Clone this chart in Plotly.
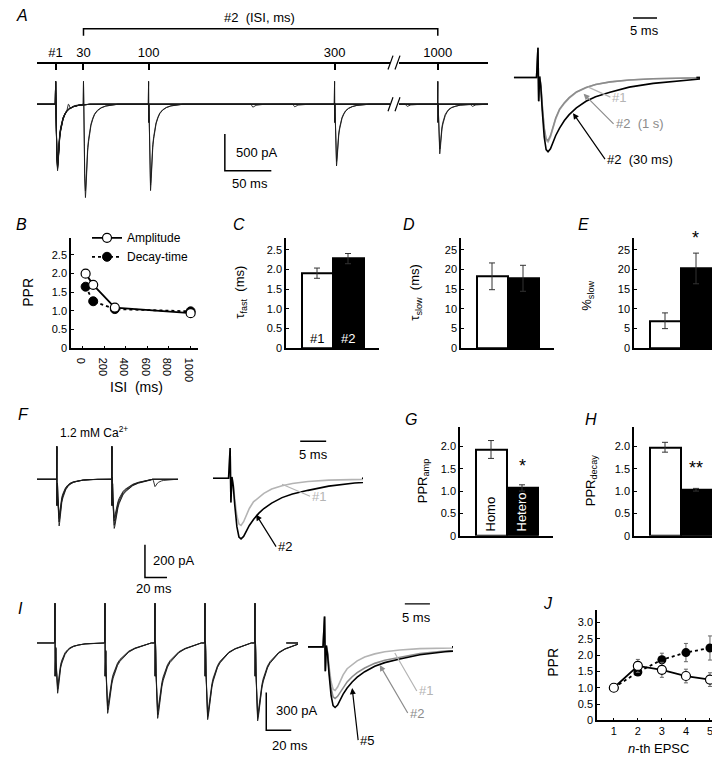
import plotly.graph_objects as go

W, H = 720, 760
def fx(p): return p / W
def fy(p): return 1 - p / H

FONT = "Liberation Sans, Arial, sans-serif"
GRAY1 = "#b4b4b4"
GRAY2 = "#8c8c8c"

# ---------------- data ----------------
# Panel B
B_ISI = [30, 100, 300, 1000]
B_AMP = [2.00, 1.70, 1.09, 0.94]
B_AMP_ERR = [0.10, 0.06, 0.04, 0.04]
B_DEC = [1.65, 1.26, 1.05, 0.99]
B_DEC_ERR = [0.06, 0.05, 0.03, 0.03]
# Panels C, D, E
CDE_GROUPS = ["#1", "#2"]
C_VAL = [1.91, 2.28]; C_ERR = [0.13, 0.13]
D_VAL = [18.3, 17.8]; D_ERR = [3.4, 3.3]
E_VAL = [7.0, 20.3]; E_ERR = [2.0, 3.9]
# Panels G, H
GH_GROUPS = ["Homo", "Hetero"]
G_VAL = [1.93, 1.07]; G_ERR = [0.20, 0.07]
H_VAL = [1.98, 1.03]; H_ERR = [0.11, 0.03]
# Panel J
J_N = [1, 2, 3, 4, 5]
J_AMP = [1.0, 1.67, 1.55, 1.36, 1.25]; J_AMP_ERR = [0, 0.20, 0.23, 0.21, 0.21]
J_DEC = [1.0, 1.48, 1.86, 2.08, 2.22]; J_DEC_ERR = [0, 0.10, 0.20, 0.28, 0.37]

# EPSC waveform samples (ms after stimulus)
EV_T    = [-0.3, 0.0, 0.15, 0.35, 0.6, 0.9, 1.3, 1.7, 2.1, 2.6, 3.1, 3.7, 4.5, 5.5, 6.5, 8, 10, 12, 15, 19, 24, 30, 37]
EV_ART  = [0, 1.0, -0.8, 0.1, 0.05, 0, 0, 0, 0, 0, 0, 0, 0, 0, 0, 0, 0, 0, 0, 0, 0, 0, 0]
EV_FAST = [0, 0, 0, -0.03, -0.15, -0.45, -0.8, -0.97, -1.0, -0.92, -0.78, -0.64, -0.5, -0.4, -0.32, -0.23, -0.16, -0.11, -0.07, -0.04, -0.02, -0.01, 0]
EV_SLOW = [0, 0, 0, -0.03, -0.15, -0.45, -0.8, -0.97, -1.0, -0.96, -0.88, -0.78, -0.68, -0.58, -0.5, -0.41, -0.32, -0.26, -0.2, -0.13, -0.08, -0.04, 0]

# Panel A traces (pA)
A_ISI = [30, 100, 300, 1000]
A_AMP1 = [[905, 840], [870, 800], [880, 830], [860, 790]]
A_AMP2 = [[1270, 1180], [1175, 1100], [840, 780], [675, 610]]
A_MINIS = [[(210, 40)], [(255, 35)], [(376, 30)], [(446, 30), (14, 60)]]   # spontaneous events (display ms, pA)
A_ART = 310
A_BREAK_AT, A_BREAK_SKIP = 365, 589
A_TICK_LABELS = ["#1", "30", "100", "300", "1000"]
A_TICK_TIMES = [0, 30, 100, 300, 1000]
# A inset (normalised)
AI_AMP = {"#1": 0.87, "#2 (1 s)": 0.85, "#2 (30 ms)": 1.0}
AI_ART = 0.4

# Panel F traces (pA)
F_ISI = 50
F_AMP1 = [285, 260, 240, 220]
F_AMP2 = [300, 280, 255, 235]
F_MINIS = [[(87, 45)], [], [], []]
F_ART = 200
FI_AMP = {"#1": 0.78, "#2": 1.0}
FI_ART = 0.5

# Panel I traces (pA), 5 pulses
I_ISI = 40
I_AMP = [[400, 560, 600, 610, 620], [370, 530, 570, 590, 600], [340, 500, 540, 560, 570]]
I_ART = 330
II_AMP = {"#1": 0.72, "#2": 0.85, "#5": 1.0}
II_ART = 0.5

# ---------------- helpers ----------------
def event(t0, amp, art, shape, t_stop=None):
    xs, ys = [], []
    for t, a_, s in zip(EV_T, EV_ART, shape):
        if t_stop is not None and t0 + t >= t_stop:
            break
        xs.append(t0 + t)
        ys.append(art * a_ + amp * s)
    return xs, ys

def sweep(events, t_start, t_end):
    """events: list of (t0, amp, artifact, shape)"""
    events = sorted(events, key=lambda e: e[0])
    xs, ys = [t_start], [0]
    for i, (t0, amp, art, shape) in enumerate(events):
        stop = events[i + 1][0] - 0.3 if i + 1 < len(events) else None
        ex, ey = event(t0, amp, art, shape, stop)
        xs += ex; ys += ey
    xs.append(t_end); ys.append(0)
    return xs, ys

def disp_a(t):
    return t if t < A_BREAK_AT else t - A_BREAK_SKIP

fig = go.Figure()
layout = {}

def axes(n, xpx, ypx, xr, yr, visible=True, xkw=None, ykw=None):
    sfx = "" if n == 1 else str(n)
    base = dict(showgrid=False, zeroline=False, showline=True, linecolor="black", linewidth=1.5,
                ticks="inside", ticklen=3, tickcolor="black", tickwidth=1.2,
                tickfont=dict(family=FONT, size=11, color="black"), fixedrange=True)
    xa = dict(base, domain=[fx(xpx[0]), fx(xpx[1])], range=xr, anchor="y" + sfx)
    ya = dict(base, domain=[fy(ypx[1]), fy(ypx[0])], range=yr, anchor="x" + sfx)
    if not visible:
        for a in (xa, ya):
            a.update(showline=False, showticklabels=False, ticks="")
    if xkw: xa.update(xkw)
    if ykw: ya.update(ykw)
    layout["xaxis" + sfx] = xa
    layout["yaxis" + sfx] = ya
    return "x" + sfx, "y" + sfx

def line(xa, ya, x, y, color="black", width=1, dash=None, legend=False, name=None, **kw):
    fig.add_trace(go.Scatter(x=x, y=y, xaxis=xa, yaxis=ya, mode="lines",
                             line=dict(color=color, width=width, dash=dash),
                             showlegend=legend, name=name, hoverinfo="skip", **kw))

annots = []
def text(x, y, s, size=12, color="black", xref="paper", yref="paper", angle=0, xanchor="center", yanchor="middle"):
    if xref == "paper": x = fx(x)
    if yref == "paper": y = fy(y)
    annots.append(dict(x=x, y=y, xref=xref, yref=yref, text=s, showarrow=False, textangle=angle,
                       font=dict(family=FONT, size=size, color=color), xanchor=xanchor, yanchor=yanchor))

def pointer(xa, ya, x, y, ax, ay, s, color, head):
    annots.append(dict(x=x, y=y, xref=xa, yref=ya, ax=ax, ay=ay, text=s, showarrow=True,
                       arrowhead=head, arrowsize=1, arrowcolor=color, arrowwidth=1.2, xanchor="left",
                       font=dict(family=FONT, size=13, color=color)))

shapes = []

# ---------------- Panel A main ----------------
xa, ya = axes(1, (29, 480), (66, 200), [-20, 465], [-1390, 418], visible=False)
for k, isi in enumerate(A_ISI):
    for j in range(2):
        ev = [(0, A_AMP1[k][j], A_ART, EV_FAST), (disp_a(isi), A_AMP2[k][j], A_ART, EV_FAST)]
        if j == 0:
            ev += [(t, a, 0, EV_FAST) for t, a in A_MINIS[k]]
        x, y = sweep(ev, -20, 465)
        line(xa, ya, x, y, color="#1a1a1a", width=0.9)
# timeline axis on top
layout["xaxis2"] = dict(overlaying="x", anchor="free", position=fy(55), side="top", range=[-20, 465],
                        domain=layout["xaxis"]["domain"],
                        tickvals=[disp_a(t) for t in A_TICK_TIMES], ticktext=A_TICK_LABELS,
                        ticks="inside", ticklen=7, tickwidth=1.5, tickcolor="black",
                        showline=True, linecolor="black", linewidth=1.5, showgrid=False, zeroline=False,
                        tickfont=dict(family=FONT, size=13, color="black"), fixedrange=True)
fig.add_trace(go.Scatter(x=[0], y=[0], xaxis="x2", yaxis="y", mode="markers",
                         marker=dict(opacity=0), showlegend=False, hoverinfo="skip"))
# bracket
shapes.append(dict(type="path", xref="x", yref="paper",
                   path=f"M {disp_a(30)},{fy(28)} L {disp_a(30)},{fy(21)} L {disp_a(1000)},{fy(21)} L {disp_a(1000)},{fy(28)}",
                   line=dict(color="black", width=1.5)))
text(252, 10, "#2  (ISI, ms)", size=13)
# break marks
for yb in (55, 97):
    shapes.append(dict(type="rect", xref="paper", yref="paper", x0=fx(382), x1=fx(391), y0=fy(yb + 8), y1=fy(yb - 8),
                       fillcolor="white", line=dict(width=0)))
    for dx in (0, 7):
        shapes.append(dict(type="line", xref="paper", yref="paper", x0=fx(380 + dx), y0=fy(yb + 7),
                           x1=fx(385 + dx), y1=fy(yb - 7), line=dict(color="black", width=1.2)))
# scale bar
line(xa, ya, [182, 182, 232], [-405, -905, -905], width=1.5)
text(226, 146, "500 pA", size=13, xanchor="left")
text(222, 177, "50 ms", size=13, xanchor="left")

# ---------------- Panel A inset ----------------
xa, ya = axes(3, (505, 692), (5, 165), [-5.2, 33.75], [-1.267, 0.867], visible=False)
for name, col in (("#1", GRAY1), ("#2 (1 s)", GRAY2), ("#2 (30 ms)", "black")):
    shape = EV_SLOW if name == "#2 (30 ms)" else EV_FAST
    x, y = sweep([(0, AI_AMP[name], AI_ART, shape)], -5, 33)
    line(xa, ya, x, y, color=col, width=1.6)
line(xa, ya, [19.8, 24.8], [0.8, 0.8], width=1.5)
text(636, 23, "5 ms", size=13)
pointer(xa, ya, 10.5, -0.13, 22, 10, "#1", GRAY1, 0)
pointer(xa, ya, 9.5, -0.22, 30, 30, "#2  (1 s)", GRAY2, 2)
pointer(xa, ya, 7.3, -0.48, 32, 46, "#2  (30 ms)", "black", 2)

# ---------------- Panel B ----------------
xa, ya = axes(4, (63, 190), (232, 343), [-105, 1068], [0, 2.95],
              xkw=dict(tickvals=[0, 200, 400, 600, 800, 1000]),
              ykw=dict(tickvals=[0, 0.5, 1.0, 1.5, 2.0, 2.5], ticktext=["0", "0.5", "1.0", "1.5", "2.0", "2.5"]))
fig.add_trace(go.Scatter(x=B_ISI, y=B_DEC, xaxis=xa, yaxis=ya, mode="lines+markers", name="Decay-time",
                         line=dict(color="black", width=1.8, dash="dot"),
                         marker=dict(symbol="circle", size=9, color="black", line=dict(color="black", width=1)),
                         error_y=dict(type="data", array=B_DEC_ERR, color="black", thickness=1, width=2),
                         showlegend=True, legendrank=2, hoverinfo="skip"))
fig.add_trace(go.Scatter(x=B_ISI, y=B_AMP, xaxis=xa, yaxis=ya, mode="lines+markers", name="Amplitude",
                         line=dict(color="black", width=1.8),
                         marker=dict(symbol="circle", size=9, color="white", line=dict(color="black", width=1.2)),
                         error_y=dict(type="data", array=B_AMP_ERR, color="black", thickness=1, width=2),
                         showlegend=True, legendrank=1, hoverinfo="skip"))
text(20, 287, "PPR", size=14, angle=-90)
text(128, 382, "ISI  (ms)", size=14)

# ---------------- Bars ----------------
def bars(n, xpx, ypx, yr, vals, errs, tickvals, ticktext):
    xa, ya = axes(n, xpx, ypx, [0, 3], yr,
                  xkw=dict(showticklabels=False, ticks=""),
                  ykw=dict(tickvals=tickvals, ticktext=ticktext))
    fig.add_trace(go.Bar(x=[1, 2], y=vals, xaxis=xa, yaxis=ya, width=1,
                         marker=dict(color=["white", "black"], line=dict(color="black", width=2)),
                         error_y=dict(type="data", array=errs, color="#333333", thickness=1, width=3),
                         showlegend=False, hoverinfo="skip"))
    return xa, ya

t28 = [0, 0.5, 1.0, 1.5, 2.0, 2.5]
tt28 = ["0", "0.5", "1.0", "1.5", "2.0", "2.5"]
xa, ya = bars(5, (278, 371), (232, 343), [0, 2.8], C_VAL, C_ERR, t28, tt28)
text(309, 333, CDE_GROUPS[0], size=13)
text(340, 333, CDE_GROUPS[1], size=13, color="white")
text(233, 287, "τ<sub>fast</sub>  (ms)", size=13, angle=-90)
t25 = [0, 5, 10, 15, 20, 25]
xa, ya = bars(6, (453, 546), (232, 343), [0, 28], D_VAL, D_ERR, t25, [str(v) for v in t25])
text(408, 287, "τ<sub>slow</sub>  (ms)", size=13, angle=-90)
xa, ya = bars(7, (626, 719), (232, 343), [0, 28], E_VAL, E_ERR, t25, [str(v) for v in t25])
text(580, 290, "%<sub>slow</sub>", size=13, angle=-90)
text(687, 232, "*", size=18)

tg = [0, 0.5, 1.0, 1.5, 2.0]
ttg = ["0", "0.5", "1.0", "1.5", "2.0"]
xa, ya = bars(10, (452, 545), (422, 532), [0, 2.44], G_VAL, G_ERR, tg, ttg)
annots.append(dict(x=1, y=0.04, xref=xa, yref=ya, text=GH_GROUPS[0], showarrow=False, textangle=-90,
                   yanchor="bottom", font=dict(family=FONT, size=13, color="black")))
annots.append(dict(x=2, y=0.04, xref=xa, yref=ya, text=GH_GROUPS[1], showarrow=False, textangle=-90,
                   yanchor="bottom", font=dict(family=FONT, size=13, color="white")))
text(514, 462, "*", size=18)
text(415, 477, "PPR<sub>amp</sub>", size=13, angle=-90)
xa, ya = bars(11, (626, 719), (422, 532), [0, 2.44], H_VAL, H_ERR, tg, ttg)
text(688, 464, "**", size=18)
text(583, 477, "PPR<sub>decay</sub>", size=13, angle=-90)

# ---------------- Panel F ----------------
xa, ya = axes(8, (29, 170), (435, 590), [-18, 110], [-696, 242], visible=False)
for j in range(len(F_AMP1)):
    ev = [(0, F_AMP1[j], F_ART, EV_FAST), (F_ISI, F_AMP2[j], F_ART, EV_SLOW)]
    ev += [(t, a, 0, EV_FAST) for t, a in F_MINIS[j]]
    x, y = sweep(ev, -18, 110)
    line(xa, ya, x, y, color="#1a1a1a", width=0.9)
line(xa, ya, [80, 80, 100], [-400, -600, -600], width=1.5)
text(143, 557, "200 pA", size=13, xanchor="left")
text(126, 585, "20 ms", size=13, xanchor="left")
text(86, 427, "1.2 mM Ca<sup>2+</sup>", size=12)

xa, ya = axes(9, (205, 355), (430, 590), [-3.3, 25.6], [-1.9, 0.72], visible=False)
for name, col, shape in (("#1", GRAY1, EV_FAST), ("#2", "black", EV_SLOW)):
    x, y = sweep([(0, FI_AMP[name], FI_ART, shape)], -3.3, 25.4)
    line(xa, ya, x, y, color=col, width=1.6)
line(xa, ya, [13.5, 18.5], [0.61, 0.61], width=1.5)
text(305, 450, "5 ms", size=13)
pointer(xa, ya, 10, -0.1, 28, 12, "#1", GRAY1, 0)
pointer(xa, ya, 5, -0.6, 20, 32, "#2", "black", 2)

# ---------------- Panel I ----------------
xa, ya = axes(12, (29, 290), (600, 760), [-14.4, 194.4], [-947, 316], visible=False)
for amps in I_AMP:
    ev = [(k * I_ISI, a, I_ART, EV_FAST if k == 0 else EV_SLOW) for k, a in enumerate(amps)]
    x, y = sweep(ev, -14.4, 185)
    line(xa, ya, x, y, color="#1a1a1a", width=0.9)
line(xa, ya, [169, 169, 189], [-395, -695, -695], width=1.5)
text(266, 708, "300 pA", size=13, xanchor="left")
text(262, 743, "20 ms", size=13, xanchor="left")

xa, ya = axes(13, (300, 445), (600, 760), [-3.3, 25.6], [-1.9, 0.72], visible=False)
for name, col, shape in (("#1", GRAY1, EV_FAST), ("#2", GRAY2, EV_SLOW), ("#5", "black", EV_SLOW)):
    x, y = sweep([(0, II_AMP[name], II_ART, shape)], -3.3, 25.4)
    line(xa, ya, x, y, color=col, width=1.6)
line(xa, ya, [16, 21], [0.71, 0.71], width=1.5)
text(408, 614, "5 ms", size=13)
pointer(xa, ya, 14, -0.1, 22, 38, "#1", GRAY1, 0)
pointer(xa, ya, 11, -0.3, 28, 48, "#2", GRAY2, 2)
pointer(xa, ya, 5.5, -0.68, 6, 52, "#5", "black", 2)

# ---------------- Panel J ----------------
xa, ya = axes(14, (589, 720), (607, 718), [0.3, 5.75], [0, 3.38],
              xkw=dict(tickvals=J_N),
              ykw=dict(tickvals=[0, 0.5, 1.0, 1.5, 2.0, 2.5, 3.0],
                       ticktext=["0", "0.5", "1.0", "1.5", "2.0", "2.5", "3.0"]))
fig.add_trace(go.Scatter(x=J_N, y=J_DEC, xaxis=xa, yaxis=ya, mode="lines+markers",
                         line=dict(color="black", width=1.8, dash="dot"),
                         marker=dict(symbol="circle", size=9, color="black"),
                         error_y=dict(type="data", array=J_DEC_ERR, color="#666666", thickness=1, width=2),
                         showlegend=False, hoverinfo="skip"))
fig.add_trace(go.Scatter(x=J_N, y=J_AMP, xaxis=xa, yaxis=ya, mode="lines+markers",
                         line=dict(color="black", width=1.8),
                         marker=dict(symbol="circle", size=9, color="white", line=dict(color="black", width=1.2)),
                         error_y=dict(type="data", array=J_AMP_ERR, color="#666666", thickness=1, width=2),
                         showlegend=False, hoverinfo="skip"))
text(545, 660, "PPR", size=14, angle=-90)
text(650, 746, "<i>n</i>-th EPSC", size=13)

# panel letters
for lab, px_, py_ in (("A", 6, 8), ("B", 6, 218), ("C", 223, 218), ("D", 393, 218), ("E", 568, 218),
                      ("F", 8, 410), ("G", 395, 415), ("H", 575, 415), ("I", 8, 605), ("J", 533, 600)):
    text(px_, py_, f"<i>{lab}</i>", size=16, xanchor="left")

fig.update_layout(**layout)
fig.update_layout(width=W, height=H, margin=dict(l=0, r=0, t=0, b=0),
                  paper_bgcolor="white", plot_bgcolor="white",
                  font=dict(family=FONT, color="black"),
                  annotations=annots, shapes=shapes,
                  legend=dict(x=fx(79), y=fy(217), xanchor="left", yanchor="top",
                              bgcolor="rgba(0,0,0,0)", font=dict(family=FONT, size=12),
                              itemwidth=30, tracegroupgap=0),
                  bargap=0)
fig.write_html("out.html")
